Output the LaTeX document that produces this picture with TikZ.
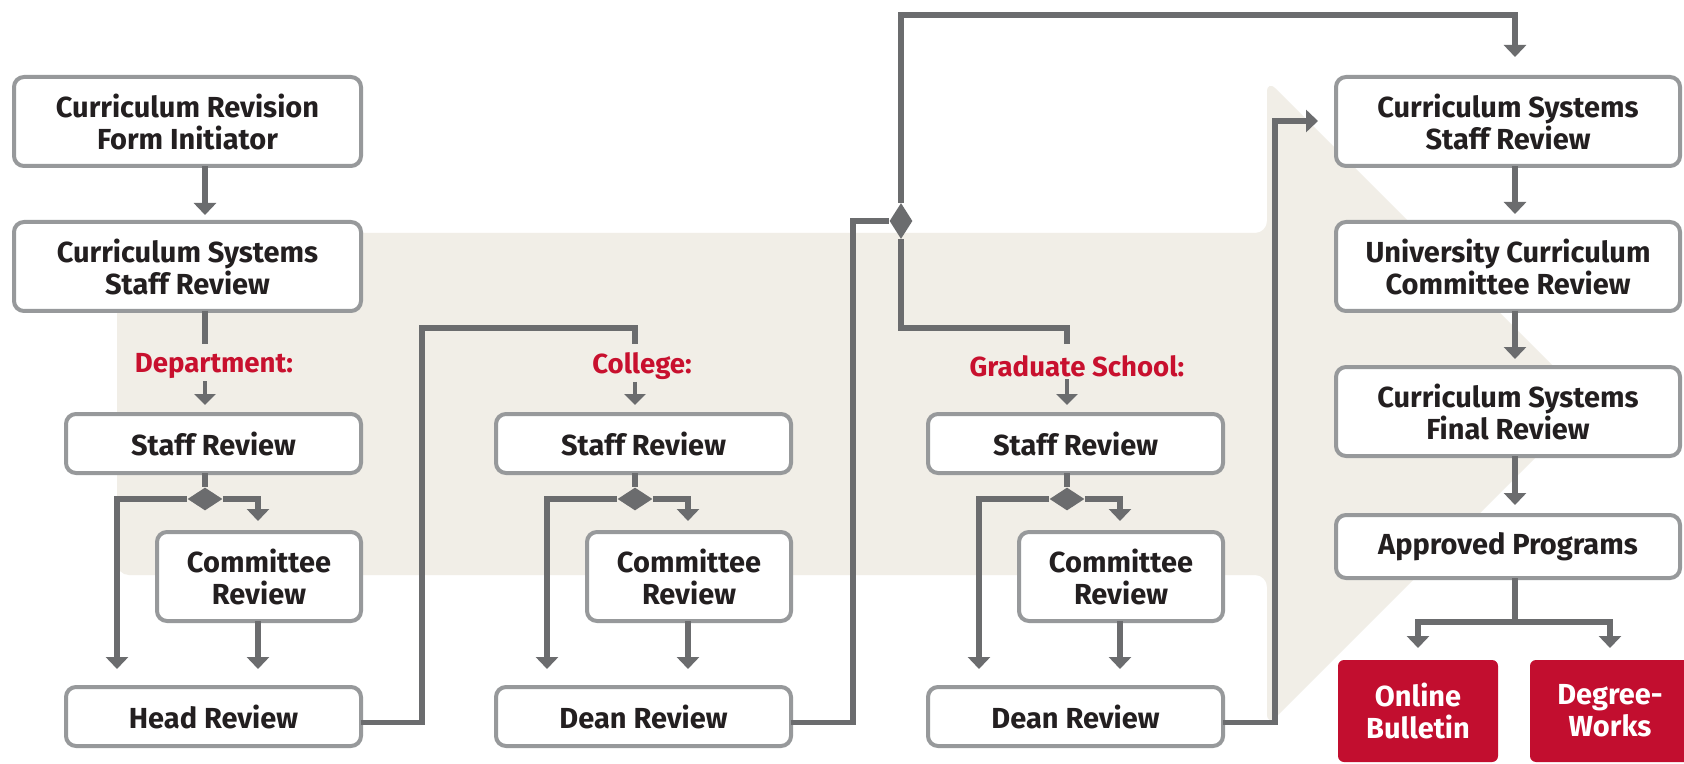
\documentclass[tikz,border=0pt]{standalone}
\usepackage{fontspec}
\setmainfont{Fira Sans}
\usetikzlibrary{arrows.meta,shapes.geometric}
\definecolor{beige}{HTML}{F1EEE7}
\definecolor{boxgray}{HTML}{97999B}
\definecolor{conngray}{HTML}{6B6C6E}
\definecolor{txt}{HTML}{231F20}
\definecolor{crim}{HTML}{C8102E}
\definecolor{redbox}{HTML}{C20E2F}
\begin{document}
\begin{tikzpicture}[x=0.5pt,y=-0.5pt,
  box/.style={draw=boxgray,line width=2pt,rounded corners=5pt,fill=white,text=txt,
    font=\bfseries\fontsize{14.5}{16}\selectfont,align=center,inner sep=0pt,outer sep=0pt},
  wide/.style={box,minimum width=173.5pt,minimum height=44.5pt},
  single/.style={box,minimum width=147.5pt,minimum height=29.5pt},
  comm/.style={box,minimum width=102pt,minimum height=44.5pt},
  rbox/.style={box,minimum width=172pt,minimum height=44.5pt},
  redb/.style={fill=redbox,rounded corners=3pt,text=white,font=\bfseries\fontsize{14.5}{16}\selectfont,
    align=center,inner sep=0pt,outer sep=0pt,minimum width=80pt,minimum height=51pt},
  lab/.style={text=crim,font=\bfseries\fontsize{13.8}{16}\selectfont,inner sep=1pt},
  conn/.style={draw=conngray,line width=2.6pt},
  arr/.style={conn,-{Triangle[width=11pt,length=6pt]}},
  sarr/.style={draw=conngray,line width=1.8pt,-{Triangle[width=10.5pt,length=5.5pt]}},
  hdia/.style={diamond,fill=conngray,inner sep=0pt,minimum width=17.5pt,minimum height=11.5pt},
  vdia/.style={diamond,fill=conngray,inner sep=0pt,minimum width=11.5pt,minimum height=18pt}
]
\useasboundingbox (0,0) rectangle (1684,764);
\fill[white] (0,0) rectangle (1684,764);
% background arrow band
\fill[beige,rounded corners=6pt] (117,233) -- (1267,233) -- (1267,80) -- (1590,403) -- (1267,726) -- (1267,575) -- (117,575) -- cycle;

% x positions
\coordinate (c1) at (205,0);
\coordinate (c2) at (635,0);
\coordinate (c3) at (1067,0);
\coordinate (L1) at (117,0);
\coordinate (L2) at (547,0);
\coordinate (L3) at (979,0);
\coordinate (R1) at (258,0);
\coordinate (R2) at (688,0);
\coordinate (R3) at (1120,0);
\coordinate (cr) at (1515,0);

% nodes
\node[wide] (A) at (187.5,121.5) {Curriculum Revision\\Form Initiator};
\node[wide] (B) at (187.5,266.5) {Curriculum Systems\\Staff Review};

\node[lab] (dept) at (214,366) {Department:};
\node[lab] (coll) at (642,366) {College:};
\node[lab] (grad) at (1077,366) {Graduate School:};

\node[single] (S1) at (213.5,443.5) {Staff Review};
\node[comm] (C1) at (259,576.5) {Committee\\Review};
\node[single] (H1) at (213.5,716.5) {Head Review};

\node[single] (S2) at (643.5,443.5) {Staff Review};
\node[comm] (C2) at (689,576.5) {Committee\\Review};
\node[single] (D2) at (643.5,716.5) {Dean Review};

\node[single] (S3) at (1075.5,443.5) {Staff Review};
\node[comm] (C3) at (1121,576.5) {Committee\\Review};
\node[single] (D3) at (1075.5,716.5) {Dean Review};

\node[rbox] (RS) at (1508,121.5) {Curriculum Systems\\Staff Review};
\node[rbox] (UC) at (1508,266.5) {University Curriculum\\Committee Review};
\node[rbox] (CF) at (1508,411.5) {Curriculum Systems\\Final Review};
\node[rbox,minimum height=31.5pt] (AP) at (1508,546.5) {Approved Programs};

\node[redb] (OB) at (1418,711) {Online\\Bulletin};
\node[redb] (DW) at (1610,711) {Degree-\\Works};

% diamonds
\node[hdia] (d1) at (205,499) {};
\node[hdia] (d2) at (635,499) {};
\node[hdia] (d3) at (1067,499) {};
\node[vdia] (dJ) at (901,221) {};

% helper coordinates
\coordinate (s1) at (205,344);
\coordinate (k1) at (422,328);
\coordinate (s2) at (635,344);
\coordinate (k2) at (853,221);
\coordinate (m3) at (1067,328);
\coordinate (s3) at (1067,344);
\coordinate (t1) at (1515,15);
\coordinate (k4) at (1275,121);
\coordinate (ap) at (1515,622);

% connectors
\draw[arr,shorten >=3.5pt] (c1 |- A.south) -- (c1 |- B.north);
\draw[conn] (c1 |- B.south) -- (s1);

\draw[conn] ([yshift=-3pt]H1.east) -| (k1) -| (s2);
\draw[conn] ([yshift=-3pt]D2.east) -| (k2) -- (dJ.west);
\draw[conn] (dJ.south) |- (m3) -- (s3);
\draw[arr,shorten >=10pt] (dJ.north) |- (t1) -- (t1 |- RS.north);
\draw[arr,shorten >=9pt] ([yshift=-3pt]D3.east) -| (k4) -- (RS.west |- k4);

% label arrows
\draw[sarr,shorten >=4.5pt] (c1 |- dept.south) -- (c1 |- S1.north);
\draw[sarr,shorten >=4.5pt] (c2 |- coll.south) -- (c2 |- S2.north);
\draw[sarr,shorten >=4.5pt] (c3 |- grad.south) -- (c3 |- S3.north);

% department
\draw[conn] (c1 |- S1.south) -- (d1.north);
\draw[arr,shorten >=9pt] (d1.west) -| (L1 |- H1.north);
\draw[arr,shorten >=5.5pt] (d1.east) -| (R1 |- C1.north);
\draw[arr,shorten >=9pt] (R1 |- C1.south) -- (R1 |- H1.north);
% college
\draw[conn] (c2 |- S2.south) -- (d2.north);
\draw[arr,shorten >=9pt] (d2.west) -| (L2 |- D2.north);
\draw[arr,shorten >=5.5pt] (d2.east) -| (R2 |- C2.north);
\draw[arr,shorten >=9pt] (R2 |- C2.south) -- (R2 |- D2.north);
% graduate
\draw[conn] (c3 |- S3.south) -- (d3.north);
\draw[arr,shorten >=9pt] (d3.west) -| (L3 |- D3.north);
\draw[arr,shorten >=5.5pt] (d3.east) -| (R3 |- C3.north);
\draw[arr,shorten >=9pt] (R3 |- C3.south) -- (R3 |- D3.north);

% right column
\draw[arr,shorten >=4pt] (cr |- RS.south) -- (cr |- UC.north);
\draw[arr,shorten >=4pt] (cr |- UC.south) -- (cr |- CF.north);
\draw[arr,shorten >=5pt] (cr |- CF.south) -- (cr |- AP.north);
\draw[arr,shorten >=6pt] (cr |- AP.south) |- (OB.north |- ap) -- (OB.north);
\draw[arr,shorten >=6pt] (cr |- AP.south) |- (DW.north |- ap) -- (DW.north);
\end{tikzpicture}
\end{document}
